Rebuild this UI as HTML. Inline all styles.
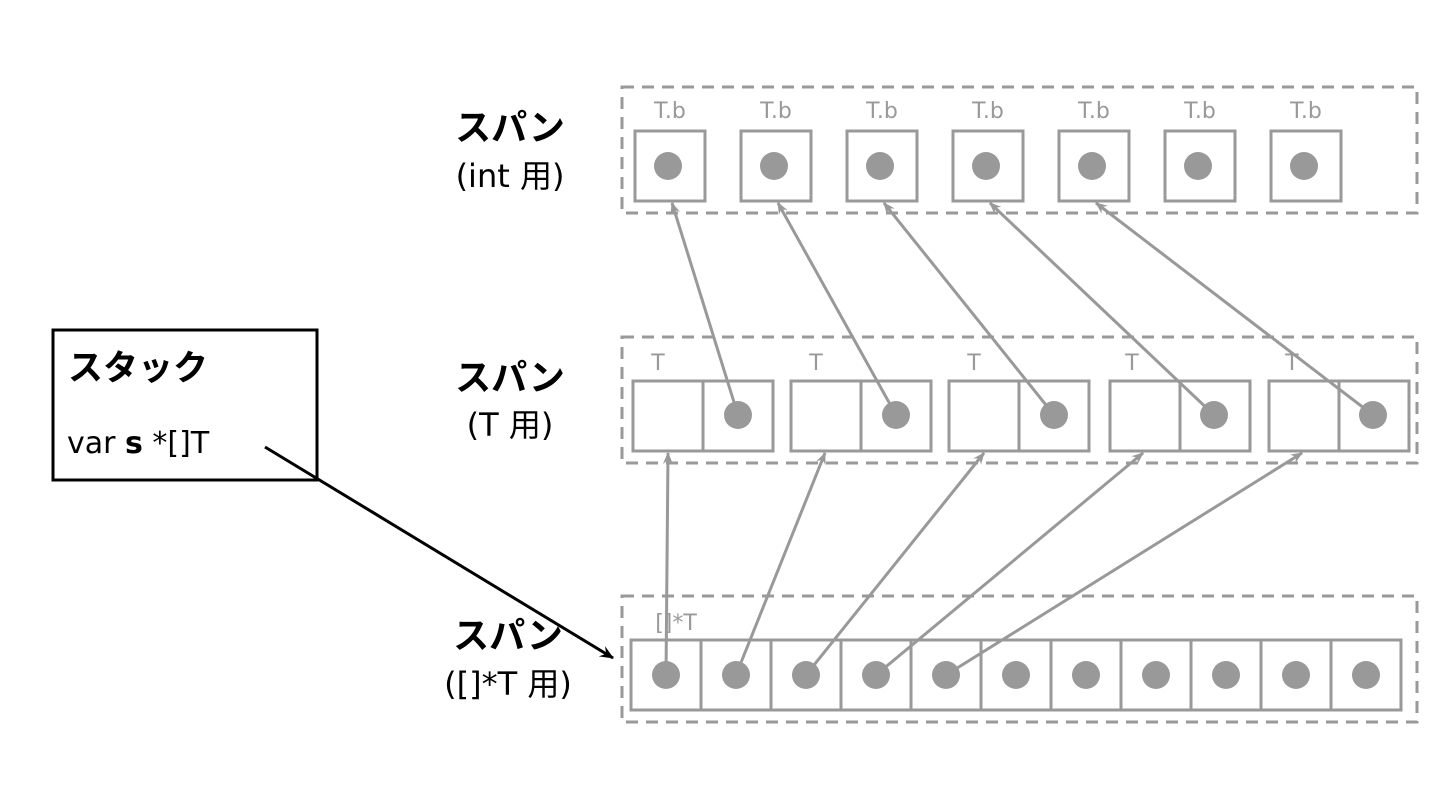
<!DOCTYPE html>
<html><head><meta charset="utf-8"><style>
html,body{margin:0;padding:0;background:#fff;width:1440px;height:810px;overflow:hidden}
text{font-family:"DejaVu Sans","Noto Sans CJK JP",sans-serif}
</style></head><body>
<svg width="1440" height="810" viewBox="0 0 1440 810" xmlns="http://www.w3.org/2000/svg">
<defs>
<marker id="ag" viewBox="0 0 12 12" refX="11" refY="6" markerWidth="12" markerHeight="12" markerUnits="userSpaceOnUse" orient="auto">
<path d="M0,1 L12,6 L0,11 L4,6 Z" fill="#999"/></marker>
<marker id="ab" viewBox="0 0 14 14" refX="13" refY="7" markerWidth="14" markerHeight="14" markerUnits="userSpaceOnUse" orient="auto">
<path d="M0,1 L14,7 L0,13 L5,7 Z" fill="#000"/></marker>
</defs>
<g fill="none" stroke="#999" stroke-width="3" stroke-dasharray="12,8">
<rect x="622" y="87" width="795" height="126"/>
<rect x="622" y="337" width="795" height="126"/>
<rect x="622" y="596" width="795" height="126"/>
</g>
<g fill="none" stroke="#999" stroke-width="3">
<rect x="635" y="131" width="70" height="70"/><rect x="741" y="131" width="70" height="70"/>
<rect x="847" y="131" width="70" height="70"/><rect x="953" y="131" width="70" height="70"/>
<rect x="1059" y="131" width="70" height="70"/><rect x="1165" y="131" width="70" height="70"/>
<rect x="1271" y="131" width="70" height="70"/>
<rect x="633" y="381" width="70" height="70"/><rect x="703" y="381" width="70" height="70"/>
<rect x="791" y="381" width="70" height="70"/><rect x="861" y="381" width="70" height="70"/>
<rect x="949" y="381" width="70" height="70"/><rect x="1019" y="381" width="70" height="70"/>
<rect x="1110" y="381" width="70" height="70"/><rect x="1180" y="381" width="70" height="70"/>
<rect x="1269" y="381" width="70" height="70"/><rect x="1339" y="381" width="70" height="70"/>
<rect x="631" y="640" width="70" height="70"/><rect x="701" y="640" width="70" height="70"/>
<rect x="771" y="640" width="70" height="70"/><rect x="841" y="640" width="70" height="70"/>
<rect x="911" y="640" width="70" height="70"/><rect x="981" y="640" width="70" height="70"/>
<rect x="1051" y="640" width="70" height="70"/><rect x="1121" y="640" width="70" height="70"/>
<rect x="1191" y="640" width="70" height="70"/><rect x="1261" y="640" width="70" height="70"/>
<rect x="1331" y="640" width="70" height="70"/>
</g>
<g fill="#999">
<circle cx="668" cy="166" r="14"/><circle cx="774" cy="166" r="14"/><circle cx="880" cy="166" r="14"/>
<circle cx="986" cy="166" r="14"/><circle cx="1092" cy="166" r="14"/><circle cx="1198" cy="166" r="14"/>
<circle cx="1304" cy="166" r="14"/>
<circle cx="738" cy="415" r="14"/><circle cx="896" cy="415" r="14"/><circle cx="1054" cy="415" r="14"/>
<circle cx="1214" cy="415" r="14"/><circle cx="1373" cy="415" r="14"/>
<circle cx="666" cy="675" r="14"/><circle cx="736" cy="675" r="14"/><circle cx="806" cy="675" r="14"/>
<circle cx="876" cy="675" r="14"/><circle cx="946" cy="675" r="14"/><circle cx="1016" cy="675" r="14"/>
<circle cx="1086" cy="675" r="14"/><circle cx="1156" cy="675" r="14"/><circle cx="1226" cy="675" r="14"/>
<circle cx="1296" cy="675" r="14"/><circle cx="1366" cy="675" r="14"/>
</g>
<g fill="#999" font-size="22" text-anchor="middle">
<text x="670" y="118">T.b</text><text x="776" y="118">T.b</text><text x="882" y="118">T.b</text>
<text x="988" y="118">T.b</text><text x="1094" y="118">T.b</text><text x="1200" y="118">T.b</text>
<text x="1306" y="118">T.b</text>
<text x="658" y="370">T</text><text x="816" y="370">T</text><text x="974" y="370">T</text>
<text x="1132" y="370">T</text><text x="1292" y="370">T</text>
<text x="676" y="630">[]*T</text>
</g>
<g stroke="#999" stroke-width="3" marker-end="url(#ag)">
<line x1="738" y1="415" x2="672" y2="203"/>
<line x1="896" y1="415" x2="778" y2="203"/>
<line x1="1054" y1="415" x2="884" y2="203"/>
<line x1="1214" y1="415" x2="990" y2="203"/>
<line x1="1373" y1="415" x2="1096" y2="203"/>
<line x1="666" y1="675" x2="668" y2="453"/>
<line x1="736" y1="675" x2="825" y2="453"/>
<line x1="806" y1="675" x2="984" y2="453"/>
<line x1="876" y1="675" x2="1143" y2="453"/>
<line x1="946" y1="675" x2="1302" y2="453"/>
</g>
<rect x="53" y="330" width="264" height="150" fill="none" stroke="#000" stroke-width="3"/>
<text x="68" y="380" font-size="35" font-weight="bold">スタック</text>
<text x="67" y="453" font-size="30">var <tspan font-weight="bold">s</tspan> *[]T</text>
<line x1="265" y1="447" x2="613" y2="658" stroke="#000" stroke-width="3" marker-end="url(#ab)"/>
<g text-anchor="middle" fill="#000">
<text x="510" y="140" font-size="36" font-weight="bold">スパン</text>
<text x="510" y="187" font-size="32">(int 用)</text>
<text x="510" y="390" font-size="36" font-weight="bold">スパン</text>
<text x="510" y="436" font-size="32">(T 用)</text>
<text x="508" y="648" font-size="36" font-weight="bold">スパン</text>
<text x="508" y="695" font-size="32">([]*T 用)</text>
</g>
</svg>
</body></html>
